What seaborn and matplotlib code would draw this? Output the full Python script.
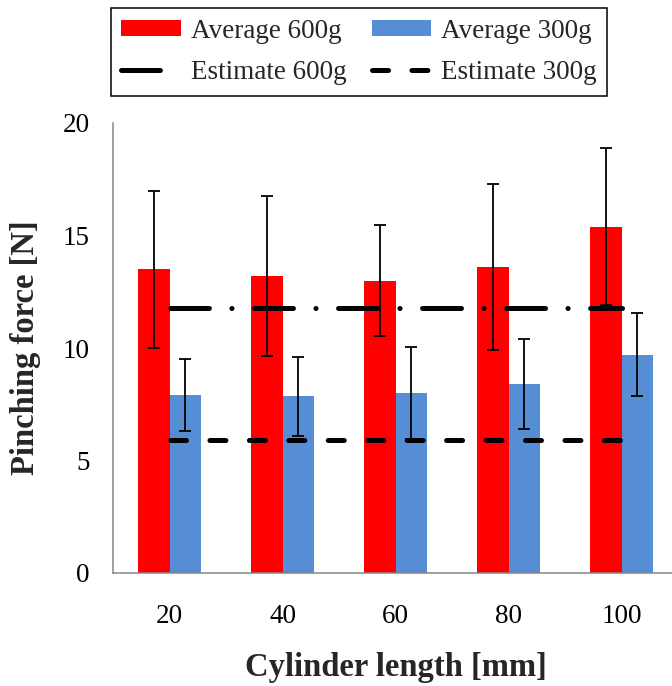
import matplotlib
matplotlib.use("Agg")
import matplotlib.pyplot as plt
import seaborn as sns
import numpy as np
import pandas as pd

lengths = ["20", "40", "60", "80", "100"]
avg_600 = [13.5, 13.2, 13.0, 13.6, 15.4]
err_600 = [3.5, 3.55, 2.45, 3.7, 3.5]
avg_300 = [7.9, 7.85, 8.0, 8.4, 9.7]
err_300 = [1.6, 1.75, 2.05, 2.0, 1.85]
est_600 = [11.8, 11.8, 11.8, 11.8, 11.8]
est_300 = [5.9, 5.9, 5.9, 5.9, 5.9]
series = ["Average 600g", "Average 300g"]
est_names = ["Estimate 600g", "Estimate 300g"]
yticks = [0, 5, 10, 15, 20]

sns.set_theme(style="white")
plt.rcParams["font.family"] = ["Liberation Serif", "DejaVu Serif"]
plt.rcParams["lines.scale_dashes"] = False

df = pd.DataFrame({
    "length": lengths * 2,
    "force": avg_600 + avg_300,
    "series": [series[0]] * len(lengths) + [series[1]] * len(lengths),
})

fig = plt.figure(figsize=(6.72, 6.86), dpi=100)
ax = fig.add_axes([113 / 672, 113 / 686, 565 / 672, 450 / 686])

sns.barplot(data=df, x="length", y="force", hue="series", order=lengths,
            hue_order=series, palette=["#FF0000", "#558ED5"], width=0.566,
            errorbar=None, saturation=1, legend=False, ax=ax,
            edgecolor="none", linewidth=0, zorder=2)

for cont, errs in zip(ax.containers, [err_600, err_300]):
    xs = [p.get_x() + p.get_width() / 2 for p in cont.patches]
    ys = list(cont.datavalues)
    ax.errorbar(xs, ys, yerr=errs, fmt="none", ecolor="black",
                elinewidth=1.3, capsize=4, capthick=1.3, zorder=3)

xpos = np.arange(len(lengths))
l600, = ax.plot(xpos, est_600, color="black", lw=3.6,
                linestyle=(0, (28, 16.2, 0.1, 16.2)),
                dash_capstyle="round", solid_capstyle="round", zorder=4)
l300, = ax.plot(xpos, est_300, color="black", lw=3.6,
                linestyle=(0, (11.5, 16.9)),
                dash_capstyle="round", solid_capstyle="round", zorder=4)

ax.set_xlim(-0.5, len(lengths) - 0.5)
ax.set_ylim(0, 20)
ax.set_yticks(yticks)
ax.set_xticks(xpos)
ax.set_xticklabels(lengths)

for s in ["top", "right"]:
    ax.spines[s].set_visible(False)
for s in ["left", "bottom"]:
    ax.spines[s].set_color("#868686")
    ax.spines[s].set_linewidth(1.1)

ax.tick_params(axis="both", direction="out", length=6, width=1.1,
               color="#868686", labelsize=19.5, labelcolor="black")
ax.tick_params(axis="y", pad=11)
ax.tick_params(axis="x", pad=17, length=5)

ax.set_xlabel("Cylinder length [mm]", fontsize=23.5, fontweight="bold",
              labelpad=17)
ax.set_ylabel("Pinching force [N]", fontsize=23.5, fontweight="bold",
              labelpad=15)

leg = fig.legend([ax.containers[0], l600, ax.containers[1], l300],
                 [series[0], est_names[0], series[1], est_names[1]],
                 ncol=2, loc="upper center",
                 bbox_to_anchor=(359 / 672, 1 - 8 / 686), borderaxespad=0,
                 frameon=True, fontsize=19.5, handlelength=2.2,
                 handleheight=0.5, handletextpad=0.35, columnspacing=0.95,
                 labelspacing=0.6, borderpad=0.4, fancybox=False,
                 edgecolor="black", framealpha=1)
leg.get_frame().set_linewidth(1.1)

fig.savefig("out.png", dpi=100)
